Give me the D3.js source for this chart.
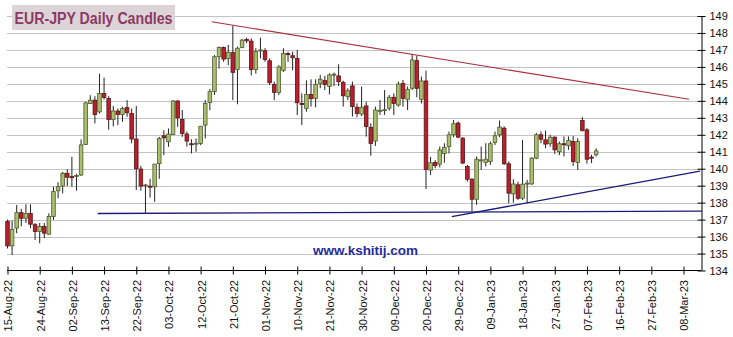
<!DOCTYPE html>
<html lang="en">
<head>
    <meta charset="UTF-8">
    <title>EUR-JPY Daily Candles</title>
    <script src="https://cdn.jsdelivr.net/npm/d3@7"></script>
    <style>
        body { margin: 0; background: #fff; }
        svg { display: block; font-family: Arial, "Liberation Sans", sans-serif; }
        .axis path, .axis line { stroke: #000; }
        .axis text { font-size: 11px; fill: #111; }
    </style>
</head>
<body>
    <div id="chart"></div>
    <script>
        // Daily candles, one per weekday starting 15-Aug-22
        const openP = [136.9, 135.45, 136.5, 137.41, 137.08, 137.37, 136.7, 136.3, 136.6, 136.14,
            137.18, 138.7, 138.98, 139.73, 139.53, 139.55, 139.63, 141.43, 143.84, 144.04,
            143.35, 144.43, 144.14, 142.9, 143.4, 143.2, 143.6, 143.25, 141.75, 139.98,
            138.98, 138.97, 138.93, 140.3, 141.94, 141.59, 142.02, 143.99, 142.9, 142.04,
            141.47, 141.45, 141.49, 142.57, 143.9, 144.54, 146.6, 147.15, 146.5, 146.84,
            145.85, 147.15, 147.62, 147.52, 145.85, 146.97, 146.95, 146.36, 144.97, 144.5,
            145.8, 146.78, 146.66, 146.5, 143.84, 143.56, 144.38, 144.15, 145.03, 145.19,
            144.84, 145.55, 145.47, 145.09, 144.25, 144.88, 143.62, 143.22, 143.7, 142.44,
            141.63, 143.42, 143.44, 143.56, 144.21, 143.75, 145.03, 144.09, 144.74, 146.37,
            144.09, 145.17, 139.92, 140.37, 140.27, 140.9, 141.31, 142.0, 142.69, 141.8,
            140.13, 139.38, 138.2, 140.5, 140.36, 140.42, 141.54, 142.0, 142.39, 140.29,
            138.52, 139.05, 138.26, 139.13, 139.1, 140.62, 142.0, 141.7, 141.47, 141.86,
            141.0, 141.47, 141.35, 141.6, 140.36, 142.84, 142.29, 140.68, 140.82];
        const highP = [137.0, 136.94, 137.86, 137.63, 137.9, 137.9, 136.8, 136.8, 136.8, 137.37,
            138.94, 139.2, 139.82, 139.96, 140.7, 139.7, 141.73, 143.94, 144.33, 144.27,
            145.6, 145.37, 144.27, 143.7, 143.55, 143.65, 144.04, 143.55, 143.7, 140.16,
            139.1, 139.4, 140.27, 141.88, 142.27, 142.37, 144.04, 144.04, 143.46, 142.18,
            141.74, 141.78, 142.5, 144.04, 144.7, 146.7, 147.2, 147.2, 147.3, 148.43,
            147.2, 147.64, 147.72, 147.68, 147.1, 147.72, 147.1, 146.5, 145.13, 146.1,
            147.1, 146.9, 146.9, 147.0, 144.44, 145.2, 145.27, 145.27, 145.53, 145.47,
            145.62, 145.66, 146.15, 145.19, 144.74, 145.13, 143.85, 144.84, 143.95, 142.67,
            143.66, 144.05, 144.64, 144.35, 144.44, 145.13, 145.23, 144.84, 146.76, 146.65,
            145.43, 145.78, 140.7, 140.5, 141.3, 141.5, 142.19, 142.88, 142.78, 141.86,
            140.23, 139.44, 140.72, 141.3, 141.5, 141.6, 142.19, 142.84, 142.49, 140.42,
            139.38, 139.24, 141.7, 139.34, 140.68, 142.1, 142.19, 142.25, 142.0, 141.9,
            141.6, 141.9, 141.9, 141.94, 141.8, 143.04, 142.39, 140.82, 141.2];
        const lowP = [135.3, 134.92, 136.2, 136.6, 136.8, 136.5, 135.8, 135.6, 135.9, 136.1,
            136.98, 138.25, 138.55, 138.98, 138.94, 138.7, 139.57, 141.4, 143.84, 142.67,
            143.25, 144.08, 142.3, 142.5, 142.57, 142.76, 143.06, 141.5, 138.75, 138.7,
            137.4, 138.3, 138.05, 139.4, 140.8, 141.29, 141.98, 142.47, 141.88, 141.3,
            140.9, 141.0, 141.39, 141.78, 143.45, 144.34, 145.9, 146.3, 146.1, 144.04,
            143.8, 147.1, 147.4, 145.5, 145.6, 146.5, 146.3, 144.93, 144.04, 144.34,
            145.7, 146.3, 145.8, 143.16, 142.57, 143.36, 143.66, 143.62, 144.74, 144.64,
            144.38, 144.87, 144.87, 143.66, 144.05, 143.07, 143.03, 143.1, 141.89, 140.77,
            141.34, 143.17, 143.17, 143.42, 143.17, 143.66, 143.66, 143.46, 144.64, 144.21,
            143.85, 138.8, 139.63, 140.02, 140.08, 140.35, 140.9, 141.86, 141.8, 140.29,
            139.24, 137.47, 137.87, 139.93, 140.13, 140.23, 141.4, 141.86, 140.23, 137.97,
            138.0, 138.16, 138.16, 137.97, 139.05, 140.56, 141.5, 141.2, 141.3, 140.88,
            140.8, 140.72, 141.11, 140.17, 139.93, 142.19, 140.29, 140.33, 140.72];
        const closeP = [135.45, 136.43, 137.41, 137.08, 137.37, 136.73, 136.3, 136.6, 136.2, 137.18,
            138.65, 138.94, 139.73, 139.5, 139.5, 139.6, 141.4, 143.88, 144.04, 143.2,
            144.43, 144.2, 142.9, 143.4, 143.2, 143.55, 143.3, 141.75, 140.0, 138.98,
            139.04, 138.95, 140.27, 141.78, 141.82, 142.04, 143.99, 143.0, 142.08, 141.63,
            141.41, 141.5, 142.5, 143.84, 144.54, 146.6, 147.15, 146.46, 146.86, 145.68,
            147.1, 147.58, 147.54, 145.85, 146.9, 147.0, 146.44, 145.07, 144.5, 146.0,
            146.8, 146.76, 146.54, 143.89, 143.82, 144.38, 144.13, 144.97, 145.27, 144.97,
            145.53, 145.57, 145.13, 144.3, 144.6, 143.66, 143.26, 143.62, 142.48, 141.49,
            143.46, 143.44, 143.48, 144.21, 143.85, 144.99, 144.15, 144.68, 146.41, 144.74,
            145.17, 139.96, 140.35, 140.18, 141.1, 141.26, 142.0, 142.65, 141.86, 140.33,
            139.38, 138.2, 140.56, 140.52, 140.56, 141.47, 141.94, 142.45, 140.29, 138.56,
            139.1, 138.26, 139.09, 139.15, 140.62, 142.0, 141.74, 141.45, 141.86, 141.11,
            141.47, 141.41, 141.66, 140.42, 141.6, 142.25, 140.56, 140.62, 141.05];

        // x-axis labels, one every 7 trading days
        const tickLabels = ["15-Aug-22", "24-Aug-22", "02-Sep-22", "13-Sep-22", "22-Sep-22", "03-Oct-22",
            "12-Oct-22", "21-Oct-22", "01-Nov-22", "10-Nov-22", "21-Nov-22", "30-Nov-22", "09-Dec-22",
            "20-Dec-22", "29-Dec-22", "09-Jan-23", "18-Jan-23", "27-Jan-23", "07-Feb-23", "16-Feb-23",
            "27-Feb-23", "08-Mar-23"];
        const priceTicks = d3.range(134, 150);

        // trend lines as [day index, price]
        const resistanceLine = [[44.4, 148.66], [148.2, 144.09]];
        const flatSupport = [[19.6, 137.36], [151, 137.5]];
        const risingSupport = [[96.6, 137.17], [150.6, 139.86]];

        const width = 733, height = 337;
        const svg = d3.select("#chart").append("svg")
            .attr("width", width)
            .attr("height", height);

        const x = d3.scaleLinear().domain([0, 150.8]).range([7.5, 701]);
        const y = d3.scaleLinear().domain([134, 149]).range([270.5, 16]);

        // grid
        svg.append("g").selectAll("line")
            .data(priceTicks.filter(d => d > 134))
            .enter().append("line")
            .attr("x1", 7).attr("x2", 701)
            .attr("y1", d => Math.round(y(d)) + 0.5)
            .attr("y2", d => Math.round(y(d)) + 0.5)
            .attr("stroke", "#c4c4c4")
            .attr("stroke-width", 1);

        // candles
        const candles = openP.map((o, i) => ({ i, o, h: highP[i], l: lowP[i], c: closeP[i] }));
        const bodyW = 3.6;
        const cg = svg.append("g");
        cg.selectAll("line")
            .data(candles)
            .enter().append("line")
            .attr("x1", d => x(d.i)).attr("x2", d => x(d.i))
            .attr("y1", d => y(d.h)).attr("y2", d => y(d.l))
            .attr("stroke", "#222")
            .attr("stroke-width", 1);
        cg.selectAll("rect")
            .data(candles)
            .enter().append("rect")
            .attr("x", d => x(d.i) - bodyW / 2)
            .attr("width", bodyW)
            .attr("y", d => y(Math.max(d.o, d.c)))
            .attr("height", d => Math.max(1, Math.abs(y(d.o) - y(d.c))))
            .attr("fill", d => d.c >= d.o ? "#a9bf6c" : "#bb1f2e")
            .attr("stroke", d => d.c >= d.o ? "#4d5a30" : "#5a1414")
            .attr("stroke-width", 0.8);

        // trend lines
        const line = d3.line().x(d => x(d[0])).y(d => y(d[1]));
        svg.append("path").datum(resistanceLine)
            .attr("d", line).attr("fill", "none")
            .attr("stroke", "#a8303c").attr("stroke-width", 1.1);
        svg.append("path").datum(flatSupport)
            .attr("d", line).attr("fill", "none")
            .attr("stroke", "#1a1a78").attr("stroke-width", 1.3);
        svg.append("path").datum(risingSupport)
            .attr("d", line).attr("fill", "none")
            .attr("stroke", "#1a1a78").attr("stroke-width", 1.3);

        // x axis
        const xAxis = svg.append("g")
            .attr("class", "axis")
            .attr("transform", "translate(0,270.5)")
            .call(d3.axisBottom(x)
                .tickValues(tickLabels.map((d, k) => k * 7))
                .tickFormat((d, k) => tickLabels[k])
                .tickSizeOuter(0));
        xAxis.select(".domain").attr("d", "M7,0H701");
        xAxis.selectAll(".tick line").attr("y1", -4).attr("y2", 4);
        xAxis.selectAll(".tick text")
            .attr("transform", "rotate(-90)")
            .attr("x", -9.5)
            .attr("y", 0)
            .attr("dy", "0.4em")
            .style("text-anchor", "end");

        // y axis on the right
        const yAxis = svg.append("g")
            .attr("class", "axis")
            .attr("transform", "translate(701.5,0)")
            .call(d3.axisRight(y).tickValues(priceTicks).tickFormat(d3.format("d")).tickSizeOuter(0));
        yAxis.selectAll(".tick line").attr("x1", -4).attr("x2", 4);
        yAxis.selectAll(".tick text").attr("x", 8);

        // title box
        svg.append("rect")
            .attr("x", 12).attr("y", 5)
            .attr("width", 163).attr("height", 25)
            .attr("fill", "#ddd4d8");
        svg.append("text")
            .attr("x", 14.5).attr("y", 23.5)
            .attr("textLength", 158)
            .attr("lengthAdjust", "spacingAndGlyphs")
            .style("font-size", "16px")
            .style("font-weight", "bold")
            .attr("fill", "#8c3a63")
            .text("EUR-JPY Daily Candles");

        // watermark
        svg.append("text")
            .attr("x", 313).attr("y", 255)
            .attr("textLength", 105)
            .attr("lengthAdjust", "spacingAndGlyphs")
            .style("font-size", "13px")
            .style("font-weight", "bold")
            .attr("fill", "#1f2b9c")
            .text("www.kshitij.com");
    </script>
</body>
</html>
